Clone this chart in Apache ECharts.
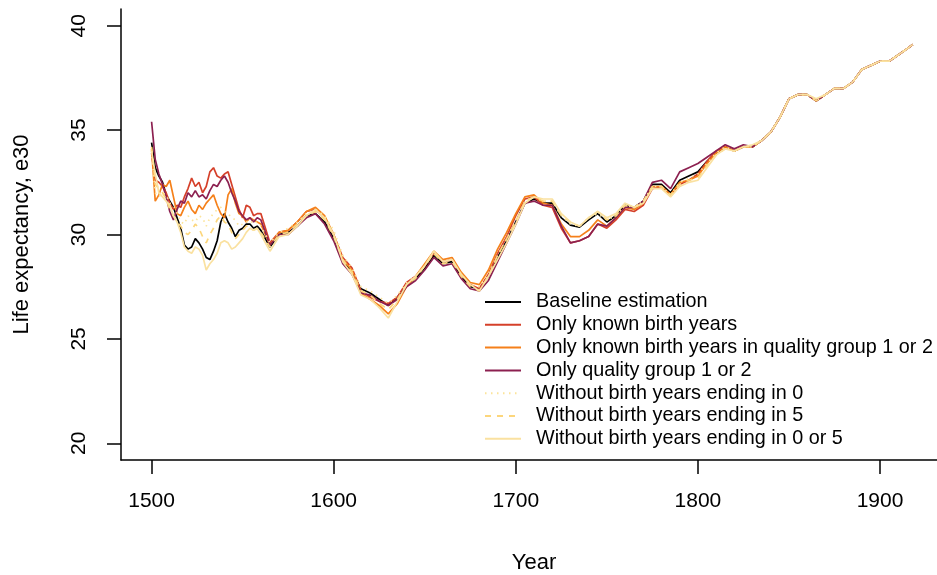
<!DOCTYPE html>
<html>
<head>
<meta charset="utf-8">
<script src="https://cdn.jsdelivr.net/npm/echarts@6/dist/echarts.min.js"></script>
<style>
html, body { margin: 0; padding: 0; background: #fff; }
#chart { width: 937px; height: 575px; }
</style>
</head>
<body>
<div id="chart"></div>
<script>
// years: every 2 years up to 1560, then every 5 years
const years = [
  1500, 1502, 1504, 1506, 1508, 1510, 1512, 1514, 1516, 1518,
  1520, 1522, 1524, 1526, 1528, 1530, 1532, 1534, 1536, 1538,
  1540, 1542, 1544, 1546, 1548, 1550, 1552, 1554, 1556, 1558,
  1560,
  1565, 1570, 1575, 1580, 1585, 1590, 1595, 1600,
  1605, 1610, 1615, 1620, 1625, 1630, 1635, 1640, 1645, 1650,
  1655, 1660, 1665, 1670, 1675, 1680, 1685, 1690, 1695, 1700,
  1705, 1710, 1715, 1720, 1725, 1730, 1735, 1740, 1745, 1750,
  1755, 1760, 1765, 1770, 1775, 1780, 1785, 1790, 1795, 1800,
  1805, 1810, 1815, 1820, 1825, 1830, 1835, 1840, 1845, 1850,
  1855, 1860, 1865, 1870, 1875, 1880, 1885, 1890, 1895, 1900,
  1905, 1910, 1915, 1918
];

const baseline = [
  34.4, 33.2, 32.8, 32.5, 31.9, 31.6, 31.3, 30.8, 30.3, 29.5,
  29.3, 29.4, 29.8, 29.6, 29.3, 28.9, 28.8, 29.2, 29.7, 30.6,
  31.0, 30.6, 30.3, 29.9, 30.2, 30.3, 30.5, 30.5, 30.3, 30.4,
  30.2,
  29.4, 30.0, 30.1, 30.4, 30.9, 31.0, 30.6, 29.8,
  28.7, 28.2, 27.4, 27.2, 26.9, 26.6, 27.0, 27.6, 27.9, 28.4,
  29.0, 28.6, 28.7, 28.0, 27.5, 27.4, 28.0, 28.9, 29.7, 30.6,
  31.5, 31.7, 31.5, 31.5, 30.8, 30.45, 30.35, 30.7, 31.0, 30.6,
  30.9, 31.4, 31.3, 31.6, 32.4, 32.4, 32.0, 32.6, 32.8, 33.0,
  33.5, 33.9, 34.2, 34.0, 34.2, 34.2, 34.5, 34.9, 35.6, 36.5,
  36.7, 36.7, 36.4, 36.7, 37.0, 37.0, 37.3, 37.9, 38.1, 38.3,
  38.3, 38.6, 38.9, 39.1
];

const knownBirth = [
  33.9, 32.6, 32.5, 32.3, 32.0, 31.5, 31.2, 31.4, 31.3, 31.8,
  32.2, 32.7, 32.3, 32.5, 32.0, 32.3, 33.0, 33.2, 32.8, 32.7,
  32.9, 33.0, 32.4, 31.8, 31.2, 30.8, 31.4, 31.3, 30.9, 31.0,
  31.0,
  29.6, 30.1, 30.2, 30.6, 31.1, 31.2, 30.8, 30.0,
  28.9, 28.4, 27.3, 27.0, 26.8, 26.7, 27.0, 27.7, 28.0, 28.5,
  29.1, 28.7, 28.8, 28.1, 27.6, 27.4, 28.1, 29.1, 29.9, 30.9,
  31.7, 31.8, 31.4, 31.3, 30.3, 29.6, 29.7, 29.9, 30.5, 30.3,
  30.7, 31.2, 31.1, 31.4, 32.2, 32.3, 31.9, 32.4, 32.6, 32.9,
  33.5, 34.0, 34.2, 34.0, 34.2, 34.2, 34.5, 34.9, 35.6, 36.5,
  36.7, 36.7, 36.4, 36.7, 37.0, 37.0, 37.3, 37.9, 38.1, 38.3,
  38.3, 38.6, 38.9, 39.1
];

const knownBirthQ12 = [
  34.1, 31.6, 31.9, 32.4, 32.3, 32.6, 31.8, 31.0, 30.9, 31.3,
  31.6, 31.2, 31.0, 31.4, 31.2, 31.5, 31.7, 31.9, 31.4, 31.0,
  30.8, 31.9, 32.2, 31.5, 31.0, 30.9, 30.6, 30.8, 30.7, 30.6,
  30.5,
  29.5, 30.1, 30.2, 30.6, 31.1, 31.3, 30.9, 30.0,
  28.8, 28.3, 27.2, 26.9, 26.6, 26.2, 26.7, 27.5, 28.0, 28.6,
  29.2, 28.8, 28.9, 28.2, 27.7, 27.6, 28.3, 29.3, 30.1, 31.0,
  31.8, 31.9, 31.5, 31.4, 30.5, 29.9, 29.9, 30.2, 30.7, 30.4,
  30.8, 31.3, 31.2, 31.5, 32.3, 32.3, 31.9, 32.5, 32.6, 32.8,
  33.4, 33.9, 34.2, 34.0, 34.2, 34.2, 34.5, 34.9, 35.6, 36.5,
  36.7, 36.7, 36.4, 36.7, 37.0, 37.0, 37.3, 37.9, 38.1, 38.3,
  38.3, 38.6, 38.9, 39.1
];

const quality12 = [
  35.4, 33.6, 32.9, 32.4, 31.8, 31.1, 30.7, 31.2, 31.6, 31.5,
  32.0, 31.8, 32.1, 31.8, 31.9, 31.7, 32.1, 32.4, 32.3, 32.6,
  32.8, 32.5, 32.0, 31.6, 31.1, 30.9, 30.7, 30.8, 30.6, 30.8,
  30.7,
  29.5, 30.0, 30.0, 30.4, 30.8, 31.0, 30.5, 29.7,
  28.6, 28.1, 27.2, 27.1, 26.8, 26.6, 26.9, 27.5, 27.8, 28.3,
  28.9, 28.5, 28.6, 27.9, 27.4, 27.3, 27.8, 28.7, 29.6, 30.5,
  31.5, 31.6, 31.4, 31.4, 30.4, 29.6, 29.7, 29.9, 30.5, 30.4,
  30.8, 31.3, 31.3, 31.6, 32.5, 32.6, 32.2, 33.0, 33.2, 33.4,
  33.7, 34.0, 34.3, 34.1, 34.3, 34.2, 34.5, 34.9, 35.6, 36.5,
  36.7, 36.7, 36.4, 36.7, 37.0, 37.0, 37.3, 37.9, 38.1, 38.3,
  38.3, 38.6, 38.9, 39.1
];

const without0 = [
  34.0, 32.0, 31.8, 32.0, 31.9, 31.5, 31.4, 31.0, 30.6, 30.5,
  30.9, 30.7, 30.6, 30.9, 30.8, 30.4, 30.8, 31.0, 31.2, 31.3,
  31.1, 31.0, 30.8, 30.7, 30.4, 30.5, 30.6, 30.7, 30.5, 30.6,
  30.4,
  29.6, 30.1, 30.3, 30.6, 31.0, 31.2, 30.9, 30.2,
  29.0, 28.4, 27.5, 27.3, 27.0, 26.7, 27.1, 27.7, 28.0, 28.5,
  29.1, 28.7, 28.8, 28.1, 27.6, 27.5, 28.1, 29.0, 29.8, 30.7,
  31.6, 31.8, 31.6, 31.6, 30.9, 30.5, 30.4, 30.8, 31.0, 30.7,
  30.9, 31.4, 31.3, 31.6, 32.3, 32.3, 31.9, 32.5, 32.7, 32.9,
  33.4, 33.9, 34.2, 34.0, 34.2, 34.2, 34.5, 34.9, 35.6, 36.5,
  36.7, 36.7, 36.4, 36.7, 37.0, 37.0, 37.3, 37.9, 38.1, 38.3,
  38.3, 38.6, 38.9, 39.1
];

const without5 = [
  34.2, 32.4, 32.2, 32.0, 31.7, 31.2, 30.9, 30.6, 30.4, 30.1,
  30.0, 30.2, 30.5, 30.3, 29.9, 29.6, 30.0, 30.3, 30.7, 30.9,
  30.6, 30.5, 30.1, 29.8, 30.0, 30.2, 30.4, 30.4, 30.2, 30.3,
  30.1,
  29.4, 30.0, 30.1, 30.5, 30.9, 31.1, 30.7, 29.9,
  28.8, 28.2, 27.3, 27.1, 26.7, 26.4, 26.9, 27.6, 27.9, 28.5,
  29.1, 28.6, 28.7, 28.0, 27.5, 27.3, 28.0, 29.0, 29.8, 30.6,
  31.6, 31.8, 31.6, 31.6, 30.9, 30.6, 30.4, 30.8, 31.1, 30.7,
  30.9, 31.4, 31.3, 31.6, 32.3, 32.3, 31.9, 32.4, 32.6, 32.7,
  33.3, 33.8, 34.1, 34.0, 34.2, 34.2, 34.5, 34.9, 35.6, 36.5,
  36.7, 36.7, 36.4, 36.7, 37.0, 37.0, 37.3, 37.9, 38.1, 38.3,
  38.3, 38.6, 38.9, 39.1
];

const without0or5 = [
  34.0, 32.9, 32.0, 31.8, 31.6, 31.4, 30.9, 30.6, 30.1, 29.4,
  29.2, 29.1, 29.4, 29.3, 29.0, 28.3, 28.6, 28.8, 29.1, 29.6,
  29.7, 29.6, 29.3, 29.4, 29.6, 29.8, 30.1, 30.3, 30.2, 30.3,
  30.0,
  29.2, 29.9, 30.0, 30.4, 30.9, 31.2, 30.8, 30.0,
  28.7, 28.1, 27.1, 26.9, 26.5, 26.0, 26.8, 27.6, 28.0, 28.5,
  29.2, 28.7, 28.8, 28.1, 27.6, 27.3, 28.0, 28.8, 29.6, 30.5,
  31.5, 31.8, 31.7, 31.7, 31.0, 30.6, 30.4, 30.8, 31.1, 30.8,
  31.0, 31.5, 31.3, 31.5, 32.2, 32.2, 31.8, 32.3, 32.5, 32.6,
  33.2, 33.8, 34.1, 34.0, 34.2, 34.3, 34.5, 34.9, 35.6, 36.5,
  36.7, 36.7, 36.5, 36.7, 37.0, 37.0, 37.3, 37.9, 38.1, 38.3,
  38.3, 38.6, 38.9, 39.1
];

const xTicks = [1500, 1600, 1700, 1800, 1900];
const yTicks = [20, 25, 30, 35, 40];

const seriesDefs = [
  { name: 'Baseline estimation', data: baseline, color: '#000000', type: 'solid' },
  { name: 'Only known birth years', data: knownBirth, color: '#D5402A', type: 'solid' },
  { name: 'Only known birth years in quality group 1 or 2', data: knownBirthQ12, color: '#F5801A', type: 'solid' },
  { name: 'Only quality group 1 or 2', data: quality12, color: '#8C2050', type: 'solid' },
  { name: 'Without birth years ending in 0', data: without0, color: '#FCE49A', type: [1.5, 4.5] },
  { name: 'Without birth years ending in 5', data: without5, color: '#FCD67C', type: [6, 6] },
  { name: 'Without birth years ending in 0 or 5', data: without0or5, color: '#FAE1A0', type: 'solid' }
];

const chart = echarts.init(document.getElementById('chart'));
const font = 'Liberation Sans, Arial, sans-serif';

const option = {
  animation: false,
  backgroundColor: '#ffffff',
  grid: { left: 121, top: 9, width: 826, height: 451, outerBoundsMode: 'none' },
  legend: {
    orient: 'vertical',
    left: 479,
    top: 287,
    itemWidth: 36,
    itemHeight: 14,
    itemGap: 2.8,
    itemStyle: { opacity: 0 },
    textStyle: { fontFamily: font, fontSize: 19.8, lineHeight: 20, color: '#000', padding: [0, 0, 0, 10] },
    data: seriesDefs.map(s => s.name)
  },
  xAxis: {
    type: 'value',
    min: 1483.2,
    max: 1936.8,
    name: 'Year',
    nameLocation: 'middle',
    nameGap: 92,
    nameTextStyle: { fontFamily: font, fontSize: 22, color: '#000' },
    splitLine: { show: false },
    axisLine: { show: true, onZero: false, lineStyle: { color: '#000', width: 1.5 } },
    axisTick: { show: true, inside: false, length: 14, customValues: xTicks, lineStyle: { color: '#000', width: 1.5 } },
    axisLabel: { customValues: xTicks, margin: 31, fontFamily: font, fontSize: 21, color: '#000', formatter: v => String(v) }
  },
  yAxis: {
    type: 'value',
    min: 19.2,
    max: 40.8,
    name: 'Life expectancy, e30',
    nameLocation: 'middle',
    nameRotate: 90,
    nameGap: 88,
    nameTextStyle: { fontFamily: font, fontSize: 22, color: '#000' },
    splitLine: { show: false },
    axisLine: { show: true, onZero: false, lineStyle: { color: '#000', width: 1.5 } },
    axisTick: { show: true, inside: false, length: 14, customValues: yTicks, lineStyle: { color: '#000', width: 1.5 } },
    axisLabel: { customValues: yTicks, rotate: 90, margin: 31, fontFamily: font, fontSize: 21, color: '#000', formatter: v => String(v) }
  },
  series: seriesDefs.map(s => ({
    name: s.name,
    type: 'line',
    symbol: 'none',
    silent: true,
    color: s.color,
    lineStyle: { color: s.color, width: 1.7, type: s.type },
    data: years.map((y, i) => [y, s.data[i]])
  }))
};

chart.setOption(option);
</script>
</body>
</html>
